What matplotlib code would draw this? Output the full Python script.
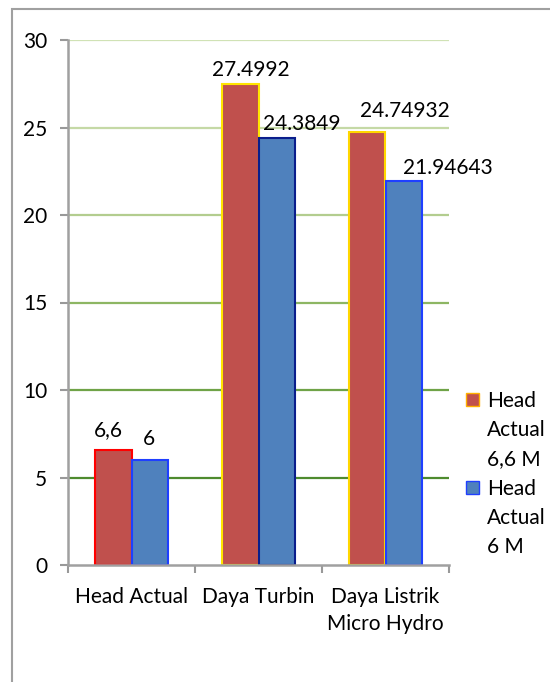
import numpy as np
import matplotlib.pyplot as plt
from matplotlib.patches import Patch, Rectangle
from matplotlib.lines import Line2D

plt.rcParams["font.family"] = ["Lato", "DejaVu Sans"]

kategori = ["Head Actual", "Daya Turbin", "Daya Listrik\nMicro Hydro"]
head_66 = [6.6, 27.4992, 24.74932]
head_6 = [6.0, 24.3849, 21.94643]
label_66 = ["6,6", "27.4992", "24.74932"]
label_6 = ["6", "24.3849", "21.94643"]
nama_seri = [["Head", "Actual", "6,6 M"], ["Head", "Actual", "6 M"]]
y_ticks = [0, 5, 10, 15, 20, 25, 30]

merah = "#C0504D"
biru = "#4F81BD"
tepi_merah = ["#FF0000", "#FFE500", "#FFD700"]
tepi_biru = ["#1F3FFF", "#0A1E8C", "#1F3FFF"]
warna_grid = ["#4E8B2E", "#6FA347", "#8DB663", "#B3CD8F", "#C5D9A6", "#D0E2B5"]
# geser label (px): dx, dy di atas puncak batang
geser_66 = [(-5, 13), (11, 8), (38, 15)]
geser_6 = [(-1, 15), (25, 8), (44, 7)]

fig = plt.figure(figsize=(5.5, 6.82), dpi=100)
ax = fig.add_axes([68/550, 1-565/682, (449-68)/550, (565-40)/682])

# bingkai luar (hanya kiri dan atas terlihat)
fig.patches.append(Rectangle((12/550, -0.1), 1.2, (1-9/682)+0.1, transform=fig.transFigure,
                             fill=False, edgecolor="#A0A0A0", linewidth=1.5))

x = np.arange(len(kategori))
w = 0.2875
for i, g in enumerate(y_ticks[1:]):
    ax.axhline(g, color=warna_grid[i], linewidth=1.6, zorder=0)

b1 = ax.bar(x - w/2, head_66, w, color=merah, edgecolor=tepi_merah, linewidth=1.5, zorder=2)
b2 = ax.bar(x + w/2, head_6, w, color=biru, edgecolor=tepi_biru, linewidth=1.5, zorder=2)

fs = 15
for bars, labs, gs in [(b1, label_66, geser_66), (b2, label_6, geser_6)]:
    for b, t, (dx, dy) in zip(bars, labs, gs):
        ax.annotate(t, (b.get_x() + b.get_width()/2, b.get_height()),
                    xytext=(dx*0.72, dy*0.72), textcoords="offset points",
                    ha="center", va="baseline", fontsize=fs, color="black")

ax.set_xlim(-0.5, 2.5)
ax.set_ylim(0, 30)
ax.set_yticks(y_ticks)
ax.set_xticks(x)
ax.set_xticklabels(kategori, fontsize=fs, linespacing=1.45)
ax.set_xticks([-0.5, 0.5, 1.5, 2.5], minor=True)
ax.tick_params(axis="x", which="major", length=0, pad=16)
ax.tick_params(axis="x", which="minor", length=6, width=1.5, color="#999999", direction="out")
ax.tick_params(axis="y", length=6, width=1.5, color="#999999", labelsize=fs, pad=9)
for s in ["top", "right"]:
    ax.spines[s].set_visible(False)
for s in ["left", "bottom"]:
    ax.spines[s].set_color("#A0A0A0")
    ax.spines[s].set_linewidth(1.8)

kosong = Line2D([], [], linestyle="none")
handles = [Patch(facecolor=merah, edgecolor="#FFB000"), kosong, kosong,
           Patch(facecolor=biru, edgecolor="#1F3FFF"), kosong, kosong]
labels = nama_seri[0] + nama_seri[1]
fig.legend(handles, labels, loc="upper left", bbox_to_anchor=(466/550, 1-391/682),
           frameon=False, fontsize=fs, handlelength=0.6, handleheight=0.6,
           handletextpad=0.4, labelspacing=0.44, borderpad=0, borderaxespad=0)

fig.savefig("out.png", dpi=100)
